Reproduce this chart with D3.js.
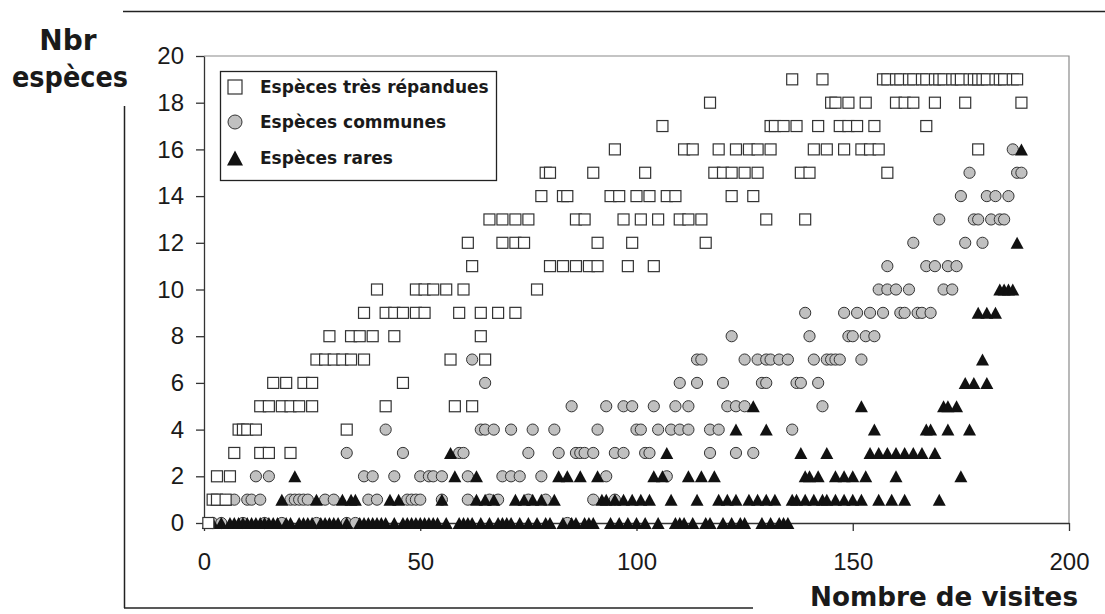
<!DOCTYPE html>
<html>
<head>
<meta charset="utf-8">
<script src="https://cdn.jsdelivr.net/npm/d3@7"></script>
<style>
  html, body { margin:0; padding:0; background:#fff; }
  svg { display:block; }
  .axis text { font-family:"Liberation Sans", Arial, sans-serif; font-size:24px; fill:#1a1a1a; }
  .axis path, .axis line { stroke:#333; stroke-width:1.3; }
  .titre { font-family:"DejaVu Sans", sans-serif; font-weight:bold; fill:#1a1a1a; }
  .leg { font-family:"DejaVu Sans", sans-serif; font-weight:bold; font-size:17px; fill:#1a1a1a; }
</style>
</head>
<body>
<svg id="chart" width="1105" height="614"></svg>
<script>
/* Nombre d'espèces vues par visite.
   Chaque ligne : [nombre d'espèces, [numéros de visite]] */
const tresRepandues = [
  [0, [1]],
  [1, [2,3,5]],
  [2, [3,6]],
  [3, [7,13,15,20]],
  [4, [8,9,10,12,33]],
  [5, [13,15,18,20,22,25,42,58,62]],
  [6, [16,19,23,25,46]],
  [7, [26,28,30,32,34,37,57,65]],
  [8, [29,34,36,39,44,64]],
  [9, [37,42,44,46,49,51,59,64,68,72]],
  [10, [40,49,51,53,56,60,77]],
  [11, [62,80,83,86,89,91,98,104]],
  [12, [61,69,72,74,91,99,116]],
  [13, [66,69,72,75,86,88,97,101,105,110,112,115,130,139]],
  [14, [78,83,84,94,96,100,103,107,109,122,127]],
  [15, [79,80,90,102,118,120,122,125,128,138,140,158]],
  [16, [95,111,113,119,123,126,128,131,141,144,148,152,154,156,179]],
  [17, [106,131,132,134,137,142,147,149,151,155,167]],
  [18, [117,145,146,149,153,160,162,164,169,176,189]],
  [19, [136,143,157,158,160,161,163,164,166,167,169,170,171,173,174,175,177,178,179,180,181,183,184,185,187,188]]
];

const communes = [
  [0, [2,4,9,14,18,26,33,35,84]],
  [1, [7,10,11,13,20,21,22,23,24,28,30,38,40,47,48,49,50,55,61,66,68,75,79,90,95]],
  [2, [12,15,37,39,44,50,52,53,55,61,69,71,73,78,93,107]],
  [3, [33,46,59,60,75,82,86,87,88,90,95,97,102,103,117,123,127]],
  [4, [42,64,65,67,71,76,81,91,100,101,105,108,110,112,117,119,136]],
  [5, [85,93,97,99,104,109,112,121,123,125,143]],
  [6, [65,110,114,120,129,130,137,138,142]],
  [7, [62,114,115,125,128,130,131,133,135,141,144,145,146,147,152]],
  [8, [122,140,149,150,153,155]],
  [9, [139,148,151,154,157,161,162,165,166,168]],
  [10, [156,158,160,163,171,173]],
  [11, [158,167,169,172,174]],
  [12, [164,176,180]],
  [13, [170,178,179,182,184,185]],
  [14, [175,181,183,186]],
  [15, [177,188,189]],
  [16, [187]]
];

const rares = [
  [0, [1,2,4,6,7,8,9,10,11,12,13,14,15,16,17,19,20,22,23,24,25,27,28,29,30,31,33,36,37,38,39,40,41,42,44,46,47,48,49,50,51,52,53,54,56,59,60,61,62,64,66,68,69,70,71,73,75,77,79,80,83,85,86,88,89,90,94,96,98,100,102,105,109,110,111,113,116,117,120,122,124,125,129,131,133,134,135]],
  [1, [3,5,18,26,32,34,35,43,45,55,63,65,67,72,74,76,78,81,92,93,95,97,99,101,103,108,114,119,121,123,126,128,130,132,136,137,139,141,143,144,146,148,150,152,156,159,162,170]],
  [2, [21,58,63,82,84,87,91,104,106,112,115,118,139,140,142,146,148,150,153,160,175]],
  [3, [57,107,138,144,154,156,158,160,162,164,166,169]],
  [4, [123,130,155,167,168,172,177]],
  [5, [127,152,171,172,174]],
  [6, [176,178,181]],
  [7, [180]],
  [9, [179,181,183]],
  [10, [184,185,186,187]],
  [12, [188]],
  [16, [189]]
];

const xTicks = [0, 50, 100, 150, 200];
const yTicks = [0, 2, 4, 6, 8, 10, 12, 14, 16, 18, 20];
const legendLabels = ["Espèces très répandues", "Espèces communes", "Espèces rares"];

const svg = d3.select("#chart");
const x = d3.scaleLinear().domain([0, 200]).range([204, 1069]);
const y = d3.scaleLinear().domain([0, 20]).range([523, 56]);

const flat = rows => rows.flatMap(([n, visits]) => visits.map(v => ({ v, n })));

/* cadre extérieur (coupé par les titres) */
svg.append("line").attr("x1",123).attr("x2",1105).attr("y1",11.5).attr("y2",11.5)
  .attr("stroke","#222").attr("stroke-width",1.5);
svg.append("line").attr("x1",124.5).attr("x2",124.5).attr("y1",106).attr("y2",608)
  .attr("stroke","#222").attr("stroke-width",1.5);
svg.append("line").attr("x1",124).attr("x2",753).attr("y1",608).attr("y2",608)
  .attr("stroke","#222").attr("stroke-width",1.5);

/* bord de la zone de traçage */
svg.append("path")
  .attr("d", `M${x(0)},${y(20)}H${x(200)}V${y(0)}`)
  .attr("fill","none").attr("stroke","#8a8a8a").attr("stroke-width",1.2);

svg.append("g").attr("class","axis")
  .attr("transform", `translate(${x(0)},0)`)
  .call(d3.axisLeft(y).tickValues(yTicks).tickSize(8).tickSizeOuter(0).tickPadding(12).tickFormat(d3.format("d")));

svg.append("g").attr("class","axis")
  .attr("transform", `translate(0,${y(0)})`)
  .call(d3.axisBottom(x).tickValues(xTicks).tickSize(8).tickSizeOuter(0).tickPadding(22).tickFormat(d3.format("d")));

const tri = s => `M0,${-s/2}L${s/2+0.5},${s/2}L${-s/2-0.5},${s/2}Z`;

const marks = svg.append("g");

marks.selectAll("circle.com").data(flat(communes)).enter()
  .append("circle").attr("class","com")
  .attr("cx", d => x(d.v)).attr("cy", d => y(d.n)).attr("r", 5.6)
  .attr("fill","#c0c0c0").attr("stroke","#333").attr("stroke-width",1);

marks.selectAll("path.rare").data(flat(rares)).enter()
  .append("path").attr("class","rare")
  .attr("d", tri(12))
  .attr("transform", d => `translate(${x(d.v)},${y(d.n)})`)
  .attr("fill","#111");

marks.selectAll("rect.rep").data(flat(tresRepandues)).enter()
  .append("rect").attr("class","rep")
  .attr("x", d => x(d.v) - 5.5).attr("y", d => y(d.n) - 5.5)
  .attr("width", 11).attr("height", 11)
  .attr("fill","#fff").attr("stroke","#333").attr("stroke-width",1.2);

/* légende */
const leg = svg.append("g");
leg.append("rect").attr("x",220.5).attr("y",71.5).attr("width",276).attr("height",109)
  .attr("fill","#fff").attr("stroke","#222").attr("stroke-width",1.3);
const rowsY = [87, 122, 158];
leg.append("rect").attr("x",228).attr("y",rowsY[0]-7).attr("width",14).attr("height",14)
  .attr("fill","#fff").attr("stroke","#333").attr("stroke-width",1.2);
leg.append("circle").attr("cx",235).attr("cy",rowsY[1]).attr("r",7)
  .attr("fill","#c0c0c0").attr("stroke","#333").attr("stroke-width",1);
leg.append("path").attr("d", tri(15)).attr("transform", `translate(235,${rowsY[2]})`).attr("fill","#111");
leg.selectAll("text").data(legendLabels).enter().append("text")
  .attr("class","leg").attr("x",260).attr("y",(d,i) => rowsY[i] + 6).text(d => d);

/* titres des axes */
svg.append("text").attr("class","titre").attr("x",68).attr("y",50)
  .attr("text-anchor","middle").style("font-size","28px").text("Nbr");
svg.append("text").attr("class","titre").attr("x",12).attr("y",87)
  .attr("textLength",116).attr("lengthAdjust","spacingAndGlyphs")
  .style("font-size","28px").text("espèces");
svg.append("text").attr("class","titre").attr("x",810).attr("y",606)
  .attr("textLength",268).attr("lengthAdjust","spacingAndGlyphs")
  .style("font-size","27px").text("Nombre de visites");
</script>
</body>
</html>
